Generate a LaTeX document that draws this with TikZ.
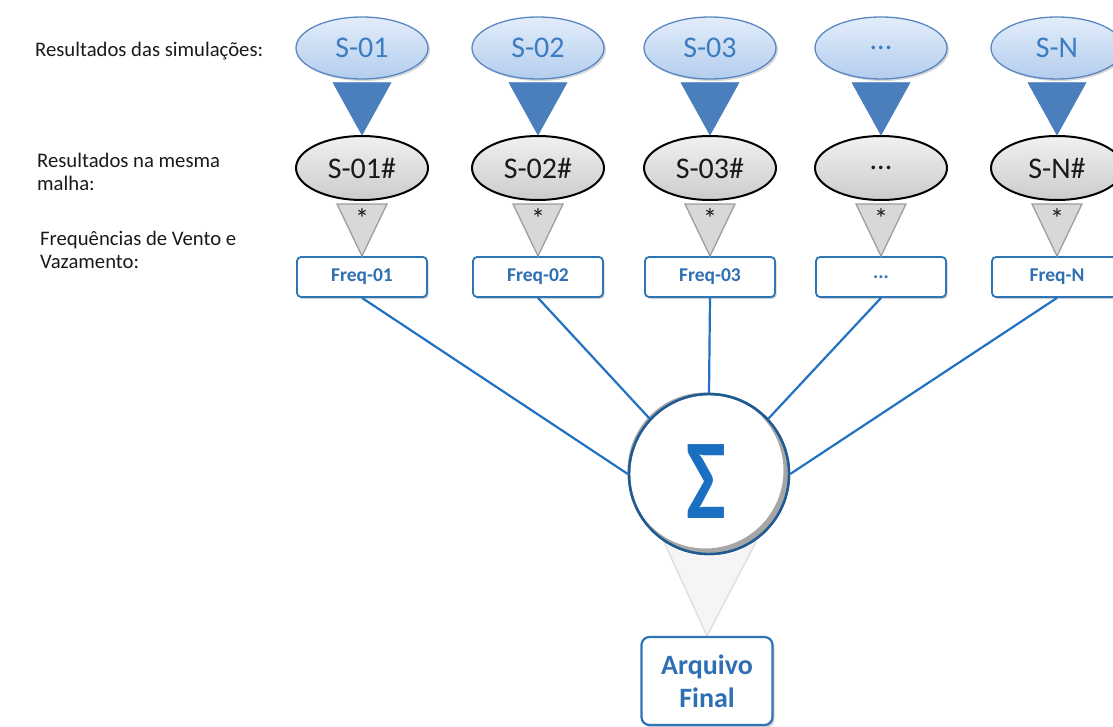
\documentclass[tikz,border=0pt]{standalone}
\usepackage{fontspec}
\setmainfont{Carlito}
\usetikzlibrary{shapes.geometric,shadows,calc}
\pgfdeclarelayer{back}
\pgfdeclarelayer{bg}
\pgfsetlayers{back,bg,main}
\newcommand\mytdots{...}
\definecolor{topA}{HTML}{E2EDFA}
\definecolor{topB}{HTML}{B4CDEE}
\definecolor{topBorder}{HTML}{5A87C0}
\definecolor{txtblue}{HTML}{3B7DC0}
\definecolor{triblue}{HTML}{4A7EBD}
\definecolor{grayA}{HTML}{F0F0F0}
\definecolor{grayB}{HTML}{CCCCCC}
\definecolor{trigray}{HTML}{D8D8D8}
\definecolor{trigrayline}{HTML}{9E9E9E}
\definecolor{boxblue}{HTML}{2E75B6}
\definecolor{boxtext}{HTML}{2F6FB3}
\definecolor{linkblue}{HTML}{2272C3}
\definecolor{sigborder}{HTML}{205A92}
\definecolor{sigtext}{HTML}{1A6FC0}
\definecolor{labeltext}{HTML}{1A1A1A}
\tikzset{
  simtop/.style={ellipse, minimum width=132pt, minimum height=62pt, inner sep=0pt,
    top color=topA, bottom color=topB, draw=topBorder, line width=1.3pt,
    text=txtblue, font=\fontsize{30}{32}\selectfont,
    drop shadow={opacity=0.3,shadow xshift=2pt,shadow yshift=-2pt}},
  simmesh/.style={ellipse, minimum width=132pt, minimum height=64pt, inner sep=0pt,
    top color=grayA, bottom color=grayB, draw=black, line width=2pt,
    text=labeltext, font=\fontsize{30}{32}\selectfont},
  freqbox/.style={rectangle, rounded corners=4pt, minimum width=130pt, minimum height=40pt,
    inner sep=0pt, fill=white, draw=boxblue, line width=1.8pt,
    text=boxtext, font=\bfseries\fontsize{19.5}{21}\selectfont,
    drop shadow={opacity=0.35,shadow xshift=1.5pt,shadow yshift=-2pt}},
  bluetri/.style={fill=triblue, draw=triblue, line width=0.6pt},
  graytri/.style={fill=trigray, draw=trigrayline, line width=1.3pt},
  astlabel/.style={font=\fontsize{28}{28}\selectfont, text=labeltext, inner sep=0pt},
  link/.style={draw=linkblue, line width=2.2pt},
  sidelabel/.style={anchor=north west, inner sep=0pt, align=left, text=labeltext,
    font=\fontsize{20.7}{22.5}\selectfont},
  sumcircle/.style={circle, minimum size=160pt, inner sep=0pt, fill=white,
    draw=sigborder, line width=2.4pt},
  finalbox/.style={rectangle, rounded corners=8pt, minimum width=131pt, minimum height=88pt,
    inner sep=0pt, fill=white, draw=boxblue, line width=2.2pt, align=center,
    text=boxtext, font=\bfseries\fontsize{28}{33}\selectfont,
    drop shadow={opacity=0.35,shadow xshift=2pt,shadow yshift=-2.5pt}},
  funnel/.style={fill=black!4, draw=black!12, line width=1.5pt}
}
\begin{document}
\begin{tikzpicture}[x=1pt,y=-1pt]
\begin{pgfonlayer}{back}
\fill[white] (0,0) rectangle (1113,727);
\end{pgfonlayer}
\clip (0,0) rectangle (1113,727);

% side labels
\node[sidelabel] (lab1) at (35,42) {Resultados das simulações:};
\node[sidelabel] (lab2) at (37,153) {Resultados na mesma\\malha:};
\node[sidelabel] (lab3) at (40,231) {Frequências de Vento e\\Vazamento:};

% columns
\foreach \i/\x/\ta/\tb/\tc in {1/362/S-01/S-01\#/Freq-01,
                                2/538/S-02/S-02\#/Freq-02,
                                3/710/S-03/S-03\#/Freq-03,
                                4/881/\mytdots/\mytdots/\mytdots,
                                5/1057/S-N/S-N\#/Freq-N}{
  \node[simtop] (t\i) at (\x,48) {\ta};
  \node[simmesh] (m\i) at (\x,168) {\tb};
  \node[freqbox] (f\i) at (\x,277) {\tc};
  \draw[bluetri] ($(t\i.south)+(-29,3)$) -- ($(t\i.south)+(29,3)$) -- (m\i.north) -- cycle;
  \draw[graytri] ($(m\i.south)+(-25,3)$) -- ($(m\i.south)+(25,3)$) -- (f\i.north) -- cycle;
  \node[astlabel] (a\i) at ($(m\i.south)+(0,18)$) {*};
}

% sum node
\node[sumcircle] (sigma) at (709,474) {};
\fill[black!35, even odd rule] (sigma.center) circle[radius=79pt]
   ($(sigma.center)+(-3.5pt,3.5pt)$) circle[radius=78pt];
\draw[draw=sigborder, line width=2.4pt] (sigma.center) circle[radius=80pt];
\node[text=sigtext, font=\bfseries\fontsize{114}{114}\selectfont, inner sep=0pt] (sigtxt) at (706,482) {\scalebox{0.74}[1]{Σ}};

% final file
\node[finalbox] (final) at (707,681) {Arquivo\\Final};

\begin{pgfonlayer}{bg}
  \draw[funnel] ($(sigma.center)+(-45,68)$) -- ($(sigma.center)+(47,68)$) -- (final.north) -- cycle;
\end{pgfonlayer}

% links
\draw[link] (f1.south) -- (sigma.west);
\draw[link] (f2.south) -- (sigma.137);
\draw[link] (f3.south) -- (sigma.north);
\draw[link] (f4.south) -- (sigma.43);
\draw[link] (f5.south) -- (sigma.east);
\end{tikzpicture}
\end{document}
